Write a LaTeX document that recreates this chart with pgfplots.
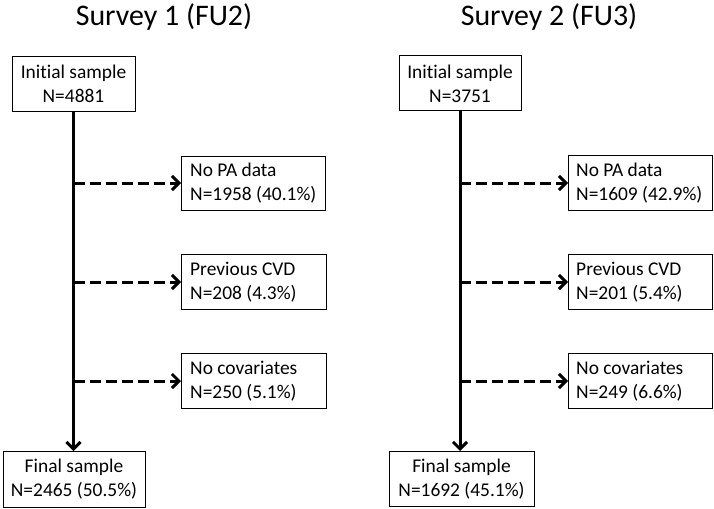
\documentclass[border=0pt]{standalone}
\usepackage{pgfplots}
\pgfplotsset{compat=1.18}
\usetikzlibrary{arrows.meta}
\usepackage{fontspec}
\setmainfont{Carlito}[Ligatures=NoCommon]
\tikzset{
  boxt/.style={font=\fontsize{19.5}{23.5}\selectfont, align=center, inner sep=0pt},
  sidet/.style={font=\fontsize{19.5}{23.5}\selectfont, align=left, inner sep=0pt, anchor=west},
  chev/.style={-{Straight Barb[length=7bp,width=14bp]}},
}
\begin{document}
\begin{tikzpicture}[x=1bp,y=1bp]
\begin{axis}[
  width=714bp, height=509bp, scale only axis,
  xmin=0, xmax=714, ymin=0, ymax=509, y dir=reverse,
  hide axis, clip=false,
]
% titles
\node[anchor=base, font=\fontsize{30}{36}\selectfont, inner sep=0pt] at (axis cs:164,26) {Survey 1 (FU2)};
\node[anchor=base, font=\fontsize{30}{36}\selectfont, inner sep=0pt] at (axis cs:549,26) {Survey 2 (FU3)};

% main flow lines
\addplot[line width=3bp, chev] coordinates {(73.5,112) (73.5,451)};
\addplot[line width=3bp, chev] coordinates {(460,111) (460,451)};

% dashed exclusions, survey 1
\addplot[line width=3bp, dash pattern=on 11bp off 5bp, chev] coordinates {(73.5,183) (181,183)};
\addplot[line width=3bp, dash pattern=on 11bp off 5bp, chev] coordinates {(73.5,282) (181,282)};
\addplot[line width=3bp, dash pattern=on 11bp off 5bp, chev] coordinates {(73.5,381) (181,381)};
% dashed exclusions, survey 2
\addplot[line width=3bp, dash pattern=on 11bp off 5bp, chev] coordinates {(460,183) (568,183)};
\addplot[line width=3bp, dash pattern=on 11bp off 5bp, chev] coordinates {(460,282) (568,282)};
\addplot[line width=3bp, dash pattern=on 11bp off 5bp, chev] coordinates {(460,381) (568,381)};

% boxes survey 1
\draw[line width=1bp, fill=white] (axis cs:12,57) rectangle (axis cs:135,112);
\node[boxt] at (axis cs:73.5,84) {Initial sample\\N=4881};
\draw[line width=1bp, fill=white] (axis cs:3,451) rectangle (axis cs:145,507);
\node[boxt] at (axis cs:74,479) {Final sample\\N=2465 (50.5\%)};
\draw[line width=1bp] (axis cs:181,156) rectangle (axis cs:325,210);
\node[sidet] at (axis cs:190,183) {No PA data\\N=1958 (40.1\%)};
\draw[line width=1bp] (axis cs:181,254) rectangle (axis cs:326,309);
\node[sidet] at (axis cs:190,282) {Previous CVD\\N=208 (4.3\%)};
\draw[line width=1bp] (axis cs:181,353) rectangle (axis cs:326,408);
\node[sidet] at (axis cs:190,381) {No covariates\\N=250 (5.1\%)};

% boxes survey 2
\draw[line width=1bp, fill=white] (axis cs:399,56) rectangle (axis cs:521,111);
\node[boxt] at (axis cs:460,84) {Initial sample\\N=3751};
\draw[line width=1bp, fill=white] (axis cs:389,451) rectangle (axis cs:534,506);
\node[boxt] at (axis cs:461.5,479) {Final sample\\N=1692 (45.1\%)};
\draw[line width=1bp] (axis cs:568,155) rectangle (axis cs:712,210);
\node[sidet] at (axis cs:576,183) {No PA data\\N=1609 (42.9\%)};
\draw[line width=1bp] (axis cs:568,254) rectangle (axis cs:712,309);
\node[sidet] at (axis cs:576,282) {Previous CVD\\N=201 (5.4\%)};
\draw[line width=1bp] (axis cs:568,353) rectangle (axis cs:712,408);
\node[sidet] at (axis cs:576,381) {No covariates\\N=249 (6.6\%)};
\end{axis}
\pgfresetboundingbox
\path[use as bounding box] (current axis.south west) rectangle (current axis.north east);
\end{tikzpicture}
\end{document}
